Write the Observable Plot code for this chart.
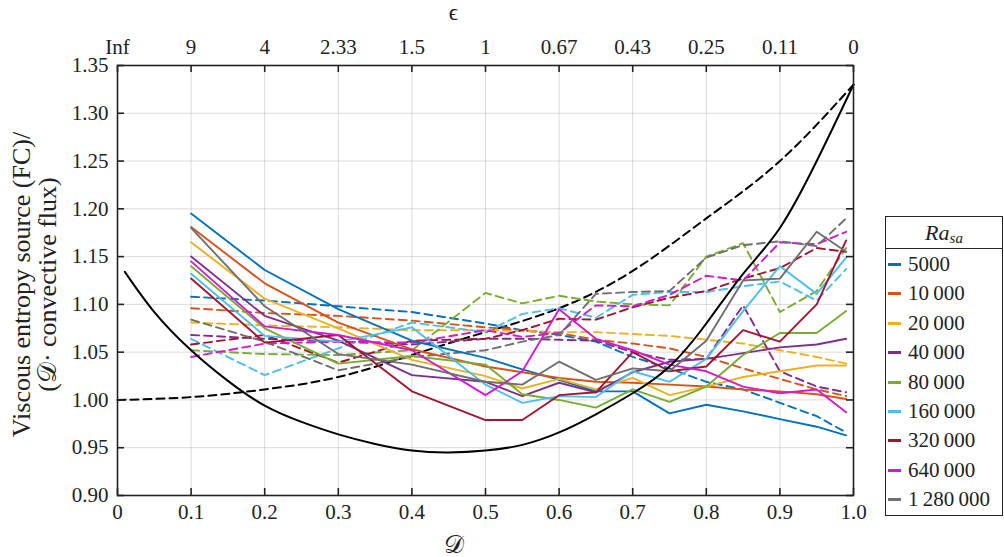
<!DOCTYPE html>
<html><head><meta charset="utf-8">
<script src="https://cdn.jsdelivr.net/npm/d3@7"></script>
<script src="https://cdn.jsdelivr.net/npm/@observablehq/plot@0.6"></script>
<style>
body{margin:0;background:#fff;}
#wrap{position:relative;width:1004px;height:557px;font-family:"Liberation Serif",Tinos,"Times New Roman",Times,"Nimbus Roman","DejaVu Serif",serif;color:#222;}
#legend{position:absolute;left:885px;top:216px;width:116px;height:298px;border:1.6px solid #222;background:#fff;}
#legend .title{position:absolute;left:0;right:0;top:0;height:31px;border-bottom:1.6px solid #222;text-align:center;font-style:italic;font-size:22px;line-height:31px;}
#legend .title sub{font-size:15px;vertical-align:-3px;}
#legend .item{position:absolute;left:0;height:22px;font-size:21px;line-height:22px;}
#legend .sw{position:absolute;left:2px;top:10px;width:13px;height:3px;}
#legend .lab{position:absolute;left:22px;top:0;white-space:nowrap;}
</style></head><body><div id="wrap"></div>
<script>
// Simulation dissipation numbers D
const D = [0.1, 0.2, 0.3, 0.4, 0.5, 0.55, 0.6, 0.65, 0.7, 0.75, 0.8, 0.85, 0.9, 0.95, 0.99];
const raLabels = ["5000", "10\u2009000", "20\u2009000", "40\u2009000", "80\u2009000", "160\u2009000", "320\u2009000", "640\u2009000", "1\u2009280\u2009000"];
const colors = ["#0072BD", "#D95319", "#EDB120", "#7E2F8E", "#77AC30", "#4DBEEE", "#A2142F", "#D21BCF", "#6F6F6F"];

// solid lines
const s5000    = [1.195, 1.136, 1.095, 1.062, 1.044, 1.032, 1.021, 1.009, 1.009, 0.986, 0.995, 0.988, 0.980, 0.972, 0.963];
const s10000   = [1.181, 1.122, 1.081, 1.053, 1.035, 1.029, 1.023, 1.019, 1.018, 1.016, 1.014, 1.011, 1.009, 1.006, 1.001];
const s20000   = [1.165, 1.106, 1.075, 1.042, 1.025, 1.012, 1.022, 1.011, 1.023, 1.005, 1.014, 1.024, 1.030, 1.036, 1.036];
const s40000   = [1.150, 1.088, 1.062, 1.026, 1.019, 1.004, 1.018, 1.008, 1.029, 1.040, 1.043, 1.049, 1.055, 1.058, 1.064];
const s80000   = [1.140, 1.075, 1.038, 1.046, 1.037, 1.006, 1.000, 0.992, 1.011, 0.998, 1.014, 1.047, 1.070, 1.070, 1.093];
const s160000  = [1.132, 1.067, 1.061, 1.076, 1.016, 0.997, 1.004, 1.003, 1.030, 1.019, 1.043, 1.093, 1.140, 1.111, 1.149];
const s320000  = [1.127, 1.060, 1.068, 1.009, 0.979, 0.979, 1.005, 1.008, 1.050, 1.030, 1.035, 1.073, 1.061, 1.100, 1.167];
const s640000  = [1.145, 1.077, 1.068, 1.052, 1.005, 1.030, 1.095, 1.064, 1.052, 1.037, 1.030, 1.014, 1.007, 1.011, 0.987];
const s1280000 = [1.180, 1.098, 1.048, 1.037, 1.019, 1.016, 1.040, 1.021, 1.033, 1.030, 1.062, 1.125, 1.127, 1.176, 1.155];

// dashed lines
const d5000    = [1.108, 1.104, 1.098, 1.092, 1.080, 1.073, 1.068, 1.061, 1.045, 1.033, 1.019, 1.011, 0.997, 0.983, 0.966];
const d10000   = [1.096, 1.091, 1.088, 1.083, 1.076, 1.073, 1.070, 1.063, 1.059, 1.054, 1.045, 1.033, 1.022, 1.011, 1.004];
const d20000   = [1.081, 1.078, 1.076, 1.073, 1.073, 1.072, 1.071, 1.071, 1.069, 1.067, 1.063, 1.059, 1.052, 1.045, 1.038];
const d40000   = [1.068, 1.064, 1.061, 1.058, 1.064, 1.064, 1.063, 1.062, 1.050, 1.042, 1.043, 1.099, 1.030, 1.014, 1.008];
const d80000   = [1.052, 1.048, 1.047, 1.052, 1.112, 1.101, 1.109, 1.103, 1.100, 1.099, 1.150, 1.164, 1.092, 1.114, 1.159];
const d160000  = [1.064, 1.026, 1.054, 1.081, 1.071, 1.090, 1.096, 1.086, 1.110, 1.113, 1.113, 1.119, 1.124, 1.104, 1.137];
const d320000  = [1.058, 1.068, 1.039, 1.062, 1.064, 1.073, 1.085, 1.084, 1.097, 1.107, 1.114, 1.127, 1.138, 1.159, 1.155];
const d640000  = [1.045, 1.059, 1.061, 1.060, 1.073, 1.066, 1.070, 1.099, 1.098, 1.110, 1.130, 1.125, 1.165, 1.163, 1.176];
const d1280000 = [1.084, 1.061, 1.031, 1.045, 1.052, 1.061, 1.068, 1.111, 1.113, 1.114, 1.149, 1.162, 1.166, 1.161, 1.190];

// black theory curves
const theoryD      = [0.01, 0.05, 0.1, 0.15, 0.2, 0.25, 0.3, 0.35, 0.4, 0.45, 0.5, 0.55, 0.6, 0.65, 0.7, 0.75, 0.8, 0.85, 0.9, 0.95, 1.0];
const theorySolid  = [1.134, 1.092, 1.052, 1.020, 0.994, 0.977, 0.964, 0.954, 0.947, 0.945, 0.947, 0.953, 0.966, 0.985, 1.007, 1.035, 1.080, 1.132, 1.180, 1.250, 1.330];
const theoryDashD  = [0, 0.1, 0.2, 0.3, 0.4, 0.5, 0.6, 0.7, 0.8, 0.9, 1.0];
const theoryDashed = [1.000, 1.003, 1.011, 1.024, 1.047, 1.071, 1.096, 1.135, 1.190, 1.250, 1.330];

const xTicks = [0, 0.1, 0.2, 0.3, 0.4, 0.5, 0.6, 0.7, 0.8, 0.9, 1.0];
const xTickLabels = ["0", "0.1", "0.2", "0.3", "0.4", "0.5", "0.6", "0.7", "0.8", "0.9", "1.0"];
const epsLabels = ["Inf", "9", "4", "2.33", "1.5", "1", "0.67", "0.43", "0.25", "0.11", "0"];
const yTicks = [0.90, 0.95, 1.00, 1.05, 1.10, 1.15, 1.20, 1.25, 1.30, 1.35];

const solidSeries = [s5000, s10000, s20000, s40000, s80000, s160000, s320000, s640000, s1280000];
const dashedSeries = [d5000, d10000, d20000, d40000, d80000, d160000, d320000, d640000, d1280000];

const W = 1004, H = 557, mL = 117, mR = 151, mT = 65, mB = 62;
const pw = W - mL - mR, ph = H - mT - mB;
const FONT = '"Liberation Serif",Tinos,"Times New Roman",Times,"Nimbus Roman","DejaVu Serif",serif';

const toRows = (xs, ys) => xs.map((x, i) => ({x, y: ys[i]}));

const lineMarks = [];
dashedSeries.forEach((ys, k) => {
  lineMarks.push(Plot.line(toRows(D, ys), {x: "x", y: "y", stroke: colors[k], strokeWidth: 1.9, strokeDasharray: "8,5"}));
});
solidSeries.forEach((ys, k) => {
  lineMarks.push(Plot.line(toRows(D, ys), {x: "x", y: "y", stroke: colors[k], strokeWidth: 1.9}));
});

const chart = Plot.plot({
  width: W, height: H,
  marginLeft: mL, marginRight: mR, marginTop: mT, marginBottom: mB,
  style: {fontFamily: FONT, fontSize: "21px", color: "#222", background: "transparent"},
  x: {domain: [0, 1]},
  y: {domain: [0.9, 1.35]},
  marks: [
    Plot.gridX(xTicks, {stroke: "#000", strokeOpacity: 0.14, strokeWidth: 1}),
    Plot.gridY(yTicks, {stroke: "#000", strokeOpacity: 0.14, strokeWidth: 1}),
    Plot.line(toRows(theoryDashD, theoryDashed), {x: "x", y: "y", stroke: "#000", strokeWidth: 2, strokeDasharray: "8,5", curve: "natural"}),
    ...lineMarks,
    Plot.line(toRows(theoryD, theorySolid), {x: "x", y: "y", stroke: "#000", strokeWidth: 2, curve: "natural"}),
    Plot.frame({stroke: "#222", strokeWidth: 1.6}),
    Plot.tickY(yTicks, {y: d => d, insetRight: pw - 7, stroke: "#222", strokeWidth: 1.6}),
    Plot.tickY(yTicks, {y: d => d, insetLeft: pw - 7, stroke: "#222", strokeWidth: 1.6}),
    Plot.tickX(xTicks, {x: d => d, insetBottom: ph - 7, stroke: "#222", strokeWidth: 1.6}),
    Plot.tickX(xTicks, {x: d => d, insetTop: ph - 7, stroke: "#222", strokeWidth: 1.6}),
    Plot.axisX(xTicks, {anchor: "bottom", tickSize: 0, tickPadding: 9, fontSize: 21, fontFamily: FONT, label: null, tickFormat: d => xTickLabels[xTicks.indexOf(d)]}),
    Plot.axisX(xTicks, {anchor: "top", tickSize: 0, tickPadding: 12, fontSize: 21, fontFamily: FONT, label: null, tickFormat: d => epsLabels[xTicks.indexOf(d)]}),
    Plot.axisY(yTicks, {anchor: "left", tickSize: 0, tickPadding: 9, fontSize: 21, fontFamily: FONT, label: null, tickFormat: d => d.toFixed(2)}),
    Plot.text(["Viscous entropy source (FC)/"], {frameAnchor: "left", textAnchor: "middle", lineAnchor: "middle", dx: -96, dy: 4, rotate: -90, fontSize: 26, fontFamily: FONT, fill: "#222"}),
    Plot.text(["(\u{1D49F}\u00B7 convective flux)"], {frameAnchor: "left", textAnchor: "middle", lineAnchor: "middle", dx: -70, dy: 4, rotate: -90, fontSize: 26, fontFamily: FONT, fill: "#222"}),
    Plot.text(["\u{1D49F}"], {frameAnchor: "bottom", lineAnchor: "middle", dx: -32, dy: 49, fontSize: 25, fontFamily: FONT, fill: "#222"}),
    Plot.text(["\u03F5"], {frameAnchor: "top", lineAnchor: "middle", dx: -32, dy: -53, fontSize: 23, fontFamily: FONT, fill: "#222"})
  ]
});

const wrap = document.getElementById("wrap");
wrap.appendChild(chart);

// legend
const leg = document.createElement("div");
leg.id = "legend";
const title = document.createElement("div");
title.className = "title";
title.innerHTML = "Ra<sub>sa</sub>";
leg.appendChild(title);
raLabels.forEach((lab, i) => {
  const it = document.createElement("div");
  it.className = "item";
  it.style.top = (36 + 29.4 * i) + "px";
  const sw = document.createElement("div");
  sw.className = "sw";
  sw.style.background = colors[i];
  const tx = document.createElement("div");
  tx.className = "lab";
  tx.textContent = lab;
  it.appendChild(sw); it.appendChild(tx);
  leg.appendChild(it);
});
wrap.appendChild(leg);
</script>
</body></html>
